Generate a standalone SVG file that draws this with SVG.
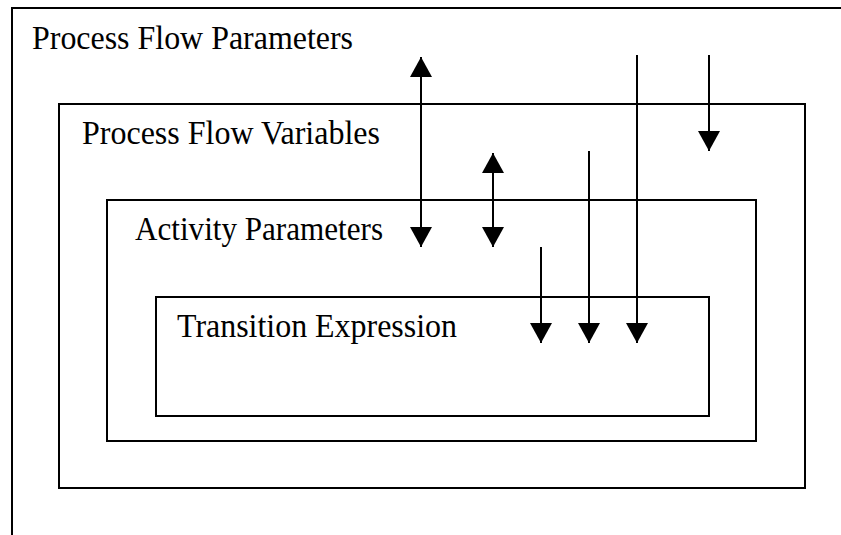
<svg xmlns="http://www.w3.org/2000/svg" width="841" height="535" viewBox="0 0 841 535">
  <defs>
    <marker id="ah" markerUnits="userSpaceOnUse" markerWidth="22" markerHeight="22" viewBox="0 0 20 22" refX="20" refY="11" orient="auto-start-reverse">
      <path d="M0,0 L20,11 L0,22 Z" fill="#000"/>
    </marker>
  </defs>
  <style>
    .box { fill: none; stroke: #000; stroke-width: 2; }
    .lbl { font-family: "Liberation Serif", "Times New Roman", serif; font-size: 33px; fill: #000; }
    .arr { stroke: #000; stroke-width: 2; fill: none; }
  </style>
  <rect width="841" height="535" fill="#fff"/>
  <g id="process-flow-parameters">
    <path class="box" d="M12,545 V8 H850"/>
    <text class="lbl" x="32" y="49" textLength="321" lengthAdjust="spacingAndGlyphs">Process Flow Parameters</text>
  </g>
  <g id="process-flow-variables">
    <rect class="box" x="59" y="104" width="746" height="384"/>
    <text class="lbl" x="82" y="144" textLength="298" lengthAdjust="spacingAndGlyphs">Process Flow Variables</text>
  </g>
  <g id="activity-parameters">
    <rect class="box" x="107" y="200" width="649" height="241"/>
    <text class="lbl" x="135" y="240" textLength="248" lengthAdjust="spacingAndGlyphs">Activity Parameters</text>
  </g>
  <g id="transition-expression">
    <rect class="box" x="156" y="297" width="553" height="119"/>
    <text class="lbl" x="177" y="337" textLength="280" lengthAdjust="spacingAndGlyphs">Transition Expression</text>
  </g>
  <g id="connectors">
    <line class="arr" x1="421" y1="57" x2="421" y2="247" marker-start="url(#ah)" marker-end="url(#ah)"/>
    <line class="arr" x1="493" y1="153" x2="493" y2="247" marker-start="url(#ah)" marker-end="url(#ah)"/>
    <line class="arr" x1="709" y1="55" x2="709" y2="151" marker-end="url(#ah)"/>
    <line class="arr" x1="637" y1="55" x2="637" y2="343" marker-end="url(#ah)"/>
    <line class="arr" x1="589" y1="151" x2="589" y2="343" marker-end="url(#ah)"/>
    <line class="arr" x1="541" y1="247" x2="541" y2="343" marker-end="url(#ah)"/>
  </g>
</svg>
